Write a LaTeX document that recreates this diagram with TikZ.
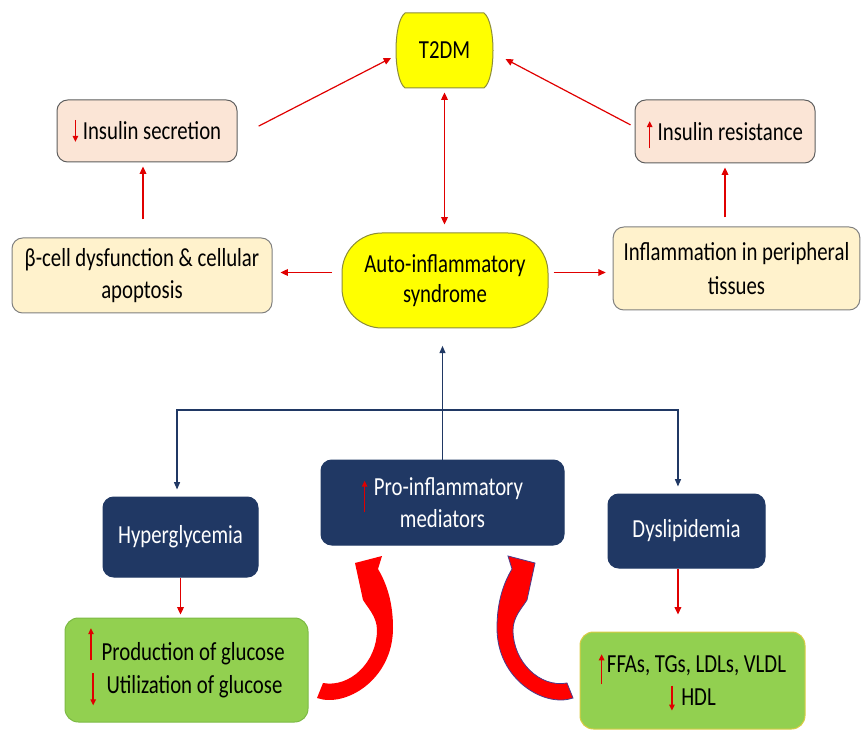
\documentclass[tikz,border=0pt]{standalone}
\usepackage{fontspec}
\setmainfont{Carlito}[FakeStretch=0.8]
\usetikzlibrary{arrows.meta}

\definecolor{yel}{HTML}{FFFF00}
\definecolor{yelline}{HTML}{8C8C3A}
\definecolor{pinkfill}{HTML}{FBE5D6}
\definecolor{pinkline}{HTML}{5E5E5E}
\definecolor{creamfill}{HTML}{FFF2CC}
\definecolor{creamline}{HTML}{7F7F7F}
\definecolor{navy}{HTML}{203864}
\definecolor{leaf}{HTML}{92D050}
\definecolor{leafline}{HTML}{7DBA45}
\definecolor{leafgold}{HTML}{D9CC45}
\definecolor{arrowred}{HTML}{E00000}
\definecolor{bigred}{HTML}{FF0000}
\definecolor{bigredline}{HTML}{4A3C8C}

% small red up/down arrows set inline with text (start/end offsets from the baseline)
\newcommand\redup[2]{\smash{\tikz[baseline=0pt]\draw[line width=1.1pt, draw=arrowred, -{Triangle[length=4.5pt,width=4pt]}] (0pt,#1) -- (0pt,#2);}}
\newcommand\reddown[2]{\smash{\tikz[baseline=0pt]\draw[line width=1.1pt, draw=arrowred, -{Triangle[length=4.5pt,width=4pt]}] (0pt,#1) -- (0pt,#2);}}

% outline of the thick curved feedback arrow
\newcommand\curvedarrowpath{(317,698) .. controls (345,708) and (393,680) .. (393,628)
  .. controls (393,603) and (387,584) .. (378,569) -- (382,556) -- (355,563) -- (363,600)
  .. controls (368,608) and (377,617) .. (377,630)
  .. controls (377,662) and (350,688) .. (323,683) -- cycle}

\begin{document}
\begin{tikzpicture}[x=0.75pt, y=-0.75pt,
  box/.style={rectangle, rounded corners=8pt, line width=0.75pt, align=center,
    inner sep=0pt, font=\fontsize{19.5}{24}\selectfont, text=black},
  pinkbox/.style={box, fill=pinkfill, draw=pinkline},
  creambox/.style={box, fill=creamfill, draw=creamline},
  navybox/.style={box, fill=navy, draw=navy, text=white},
  greenbox/.style={box, fill=leaf, draw=leafline, rounded corners=10pt},
  yellowbox/.style={box, fill=yel, draw=yelline, rounded corners=30pt},
  textonly/.style={box, draw=none, fill=none},
  redar/.style={draw=arrowred, line width=0.9pt, -{Triangle[length=5.5pt,width=5pt]}},
  redboth/.style={draw=arrowred, line width=0.9pt, {Triangle[length=5.5pt,width=5pt]}-{Triangle[length=5.5pt,width=5pt]}},
  navyar/.style={draw=navy, line width=0.9pt, -{Triangle[length=5.5pt,width=4.5pt]}},
  bigarrow/.style={fill=bigred, line width=0.6pt}
]
\useasboundingbox (0,0) rectangle (865,731);

% T2DM: box with bulging sides
\path[fill=yel, draw=yelline, line width=0.75pt] (405,13) -- (484,13)
  .. controls (496,22) and (496,79) .. (484,88) -- (405,88)
  .. controls (393,79) and (393,22) .. (405,13) -- cycle;
\node[textonly, minimum width=75pt, minimum height=56.25pt] (t2dm) at (444.5,50.5) {\raisebox{-4.5pt}{T2DM}};

% upper row
\node[pinkbox, minimum width=135pt, minimum height=46.5pt] (secretion) at (147,131)
  {\reddown{15pt}{-1.5pt}\hspace{3.5pt}Insulin secretion};
\node[pinkbox, minimum width=135pt, minimum height=47.25pt] (resistance) at (725,131.5)
  {\redup{-6pt}{14.5pt}\hspace{4pt}Insulin resistance};

% middle row
\node[creambox, minimum width=195pt, minimum height=56.25pt] (beta) at (142,275.5)
  {β-cell dysfunction \& cellular\\apoptosis};
\node[yellowbox, minimum width=154.5pt, minimum height=71.25pt, font=\fontsize{19.5}{22.5}\selectfont] (auto) at (445,280.5)
  {Auto-inflammatory\\syndrome};
\node[creambox, minimum width=185pt, minimum height=62.25pt, font=\fontsize{19.5}{25}\selectfont] (inflam) at (736.5,268.5)
  {Inflammation in peripheral\\tissues};

% lower rows
\node[navybox, minimum width=182.25pt, minimum height=63.75pt] (pro) at (442.5,502.5)
  {\redup{-12.75pt}{11pt}\hspace{5pt}Pro-inflammatory\\mediators};
\node[navybox, minimum width=116.25pt, minimum height=60pt] (hyper) at (180.5,537)
  {Hyperglycemia};
\node[navybox, minimum width=117.75pt, minimum height=55.5pt] (dysl) at (686.5,531)
  {Dyslipidemia};
\node[greenbox, minimum width=182.25pt, minimum height=78pt, font=\fontsize{19.5}{25}\selectfont] (glucose) at (186.5,670)
  {\redup{0pt}{24pt}\hspace{6pt}Production of glucose\\\reddown{15pt}{-9pt}\hspace{8pt}Utilization of glucose};
\node[greenbox, draw=leafgold, minimum width=168.75pt, minimum height=72.75pt, font=\fontsize{19.5}{25}\selectfont] (lipids) at (692.5,680.5)
  {\redup{-9pt}{13.5pt}\hspace{2pt}FFAs, TGs, LDLs, VLDL\\\reddown{15pt}{-3.75pt}\hspace{5pt}HDL};

% red connectors, upper part
\draw[redboth, shorten <=3pt, shorten >=6pt] (t2dm.south) -- (t2dm.south |- auto.north);
\coordinate (aw) at ([yshift=6pt]auto.west);
\coordinate (ae) at ([yshift=6pt]auto.east);
\draw[redar, shorten <=7pt, shorten >=6pt] (aw) -- (aw -| beta.east);
\draw[redar, shorten <=3.75pt, shorten >=5.25pt] (ae) -- (ae -| inflam.west);
\coordinate (bt) at ([xshift=0.75pt]beta.north);
\draw[redar, shorten <=13.5pt, shorten >=3pt] (bt) -- (bt |- secretion.south);
\draw[redar, shorten <=6.75pt, shorten >=3pt] (resistance.south |- inflam.north) -- (resistance.south);
\draw[redar, shorten <=17.8pt, shorten >=2.5pt] ([yshift=-4.5pt]secretion.east) -- ([yshift=-4.5pt]t2dm.west);
\draw[redar, shorten <=3.4pt, shorten >=8.9pt] ([yshift=3.4pt]resistance.west) -- ([yshift=-2.25pt]t2dm.east);

% navy connectors
\coordinate (split) at (pro.north |- 0,410);
\draw[navyar, shorten >=13pt] (pro.north) -- (pro.north |- auto.south);
\draw[navyar, shorten >=5.25pt] (split) -| ([xshift=-2.6pt]hyper.north);
\draw[navyar, shorten >=5.25pt] (split) -| ([xshift=-6.4pt]dysl.north);

% red connectors, lower part
\draw[redar, shorten >=2.25pt] (hyper.south) -- (hyper.south |- glucose.north);
\coordinate (ds) at ([xshift=-6.4pt]dysl.south);
\draw[redar, shorten >=12.75pt] (ds) -- (ds |- lipids.north);

% thick curved feedback arrows into the mediators box
\path[bigarrow] \curvedarrowpath;
\begin{scope}[shift={(890,0)}, xscale=-1]
  \path[bigarrow, draw=bigredline] \curvedarrowpath;
\end{scope}
\end{tikzpicture}
\end{document}
